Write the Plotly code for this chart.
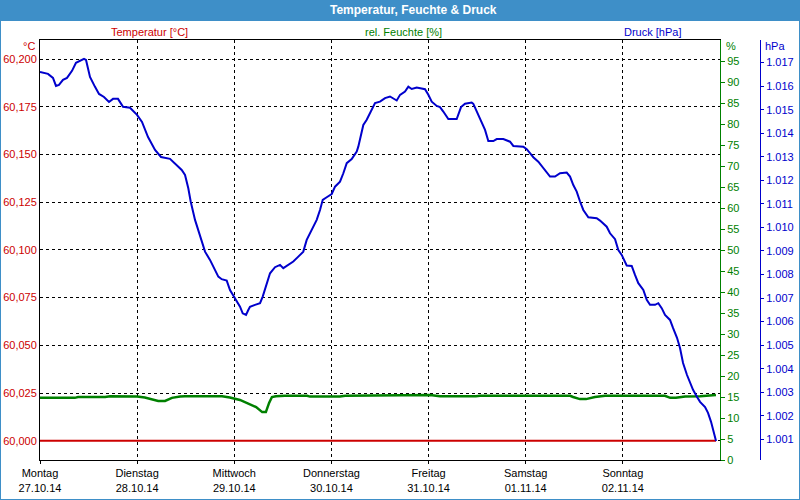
import plotly.graph_objects as go

# ---- data (hours since Mon 27.10.14 00:00) ----
p_hours = [0.0, 1.98, 3.21, 3.95, 4.69, 5.68, 6.67, 7.91, 8.89, 9.88, 10.87, 11.37, 12.35, 13.59, 14.58,
           15.81, 17.05, 18.04, 19.27, 20.51, 22.24, 23.97, 25.20, 26.69, 28.42, 29.90, 32.12, 35.01,
           35.83, 36.64, 37.23, 38.30, 39.53, 40.77, 42.00, 44.05, 44.89, 46.13, 46.94, 48.18, 49.42,
           50.08, 50.90, 51.46, 51.88, 53.12, 54.36, 55.02, 56.01, 56.83, 58.06, 59.30, 60.11, 61.35,
           62.58, 63.82, 65.05, 65.89, 66.71, 67.38, 68.36, 69.18, 69.85, 70.84, 72.07, 72.89, 74.12,
           74.94, 75.78, 77.01, 78.25, 78.64, 79.48, 79.88, 80.72, 81.95, 82.77, 84.00, 85.24, 86.47,
           88.13, 88.95, 90.18, 91.00, 91.84, 93.07, 95.12, 95.94, 96.78, 98.01, 98.83, 99.64, 100.88,
           102.95, 104.02, 105.00, 106.66, 107.06, 107.89, 109.13, 109.95, 110.76, 112.00, 112.84,
           114.47, 116.12, 116.94, 119.41, 120.25, 121.06, 121.88, 123.11, 124.35, 126.01, 127.24,
           128.48, 130.13, 130.95, 131.76, 132.60, 133.42, 134.23, 135.47, 137.54, 138.36, 140.01,
           140.83, 142.07, 142.88, 143.72, 144.95, 146.19, 147.00, 147.82, 149.06, 149.90, 150.71,
           151.94, 152.76, 153.60, 154.42, 155.65, 156.39, 157.38, 158.12, 158.87, 159.85, 160.60,
           161.34, 162.33, 163.07, 164.31, 165.04, 165.79, 166.28, 166.78, 167.02]
pressure = [1016.60, 1016.52, 1016.35, 1016.01, 1016.05, 1016.27, 1016.35, 1016.65, 1016.99, 1017.07,
            1017.16, 1017.11, 1016.39, 1015.97, 1015.67, 1015.54, 1015.33, 1015.46, 1015.46, 1015.12,
            1015.08, 1014.78, 1014.48, 1013.84, 1013.29, 1012.99, 1012.91, 1012.44, 1012.23, 1011.66,
            1011.10, 1010.32, 1009.61, 1008.97, 1008.62, 1007.91, 1007.80, 1007.74, 1007.34, 1006.99,
            1006.63, 1006.35, 1006.28, 1006.49, 1006.63, 1006.71, 1006.78, 1007.06, 1007.63, 1008.05,
            1008.31, 1008.41, 1008.27, 1008.41, 1008.55, 1008.76, 1008.97, 1009.47, 1009.75, 1009.97,
            1010.32, 1010.74, 1011.17, 1011.28, 1011.42, 1011.73, 1011.94, 1012.30, 1012.73, 1012.90,
            1013.22, 1013.43, 1014.00, 1014.35, 1014.57, 1014.99, 1015.28, 1015.34, 1015.49, 1015.56,
            1015.39, 1015.63, 1015.77, 1015.98, 1015.88, 1015.94, 1015.87, 1015.63, 1015.34, 1015.16,
            1015.11, 1014.92, 1014.60, 1014.60, 1015.11, 1015.25, 1015.30, 1015.25, 1014.92, 1014.49,
            1014.14, 1013.67, 1013.67, 1013.75, 1013.75, 1013.64, 1013.46, 1013.43, 1013.32, 1013.15,
            1012.98, 1012.79, 1012.51, 1012.16, 1012.16, 1012.30, 1012.33, 1012.16, 1011.80, 1011.52,
            1011.10, 1010.74, 1010.43, 1010.39, 1010.29, 1010.03, 1009.75, 1009.50, 1009.04, 1008.83,
            1008.38, 1008.36, 1007.98, 1007.63, 1007.34, 1006.92, 1006.71, 1006.71, 1006.78, 1006.57,
            1006.28, 1006.07, 1005.73, 1005.31, 1004.88, 1004.24, 1003.73, 1003.39, 1003.10, 1002.80,
            1002.59, 1002.37, 1002.12, 1001.74, 1001.40, 1001.10, 1000.93]

h_hours = [0.0, 8.6, 9.4, 16.1, 17.3, 22.2, 24.0, 25.9, 27.7, 29.2, 30.9, 32.6, 34.6, 35.8, 45.0, 46.9,
           49.4, 51.9, 53.4, 54.9, 55.8, 56.6, 57.3, 58.3, 60.5, 66.0, 66.7, 74.1, 75.4, 96.4, 98.8,
           107.7, 108.7, 131.0, 131.7, 133.4, 134.9, 137.1, 139.6, 154.4, 155.7, 157.1, 159.4, 163.1,
           167.0]
humidity = [14.8, 14.8, 15.0, 15.0, 15.2, 15.2, 15.1, 14.9, 14.5, 14.05, 14.05, 14.8, 15.1, 15.2, 15.2,
            14.9, 14.3, 13.3, 12.6, 11.4, 11.4, 13.6, 15.0, 15.2, 15.3, 15.3, 15.1, 15.1, 15.3, 15.5,
            15.2, 15.2, 15.3, 15.3, 15.0, 14.5, 14.5, 15.0, 15.3, 15.3, 14.8, 14.8, 15.1, 15.2, 15.5]

t_hours = [0.0, 167.0]
temperature = [60.0, 60.0]

day_ticks = [0, 24, 48, 72, 96, 120, 144]
day_labels = ["Montag<br>27.10.14", "Dienstag<br>28.10.14", "Mittwoch<br>29.10.14",
              "Donnerstag<br>30.10.14", "Freitag<br>31.10.14", "Samstag<br>01.11.14",
              "Sonntag<br>02.11.14"]
temp_ticks = [60.000, 60.025, 60.050, 60.075, 60.100, 60.125, 60.150, 60.175, 60.200]
temp_labels = ["60,000", "60,025", "60,050", "60,075", "60,100", "60,125", "60,150", "60,175", "60,200"]
hum_ticks = list(range(0, 100, 5))
hum_labels = [str(v) for v in hum_ticks]
press_ticks = list(range(1001, 1018))
press_labels = ["1.%03d" % (v - 1000) for v in press_ticks]

RED = "#cc0000"
GREEN = "#008000"
BLUE = "#0000cc"
BAR = "#3e8fc8"
FONT = "Liberation Sans"

fig = go.Figure()
fig.add_trace(go.Scatter(x=t_hours, y=temperature, mode="lines", line=dict(color=RED, width=2),
                         yaxis="y", showlegend=False))
fig.add_trace(go.Scatter(x=h_hours, y=humidity, mode="lines", line=dict(color=GREEN, width=2.5),
                         yaxis="y2", showlegend=False))
fig.add_trace(go.Scatter(x=p_hours, y=pressure, mode="lines", line=dict(color=BLUE, width=2),
                         yaxis="y3", showlegend=False))

W = 720.0
H = 420.0
def px(X):
    return (X - 40) / W
def py(Y):
    return (460 - Y) / H

fig.update_layout(
    width=800, height=500,
    margin=dict(l=40, r=40, t=40, b=40, autoexpand=False),
    paper_bgcolor="white", plot_bgcolor="white",
    font=dict(family=FONT, size=11, color="black"),
    showlegend=False,
    xaxis=dict(domain=[0, 680 / W], range=[0, 168], tickvals=day_ticks, ticktext=day_labels,
               showgrid=True, gridcolor="black", griddash="3px,3px", gridwidth=1,
               showline=True, linecolor="black", linewidth=1, mirror=True, automargin=False,
               ticks="outside", ticklen=3, tickcolor="black", zeroline=False,
               tickfont=dict(color="black", size=11)),
    yaxis=dict(range=[59.9899, 60.2100], tickvals=temp_ticks, ticktext=temp_labels,
               showgrid=True, gridcolor="black", griddash="3px,3px", gridwidth=1,
               showline=True, linecolor="black", linewidth=1, zeroline=False, automargin=False,
               ticks="", tickfont=dict(color=RED, size=11)),
    yaxis2=dict(range=[0, 100], tickvals=hum_ticks, ticktext=hum_labels, overlaying="y",
                side="right", anchor="x", showgrid=False, zeroline=False, automargin=False,
                showline=True, linecolor=GREEN, linewidth=1,
                ticks="outside", ticklen=4, tickcolor=GREEN, tickfont=dict(color=GREEN, size=11)),
    yaxis3=dict(range=[1000.12, 1017.96], tickvals=press_ticks, ticktext=press_labels,
                overlaying="y", side="right", anchor="free", position=1.0, automargin=False,
                showgrid=False, zeroline=False, showline=True, linecolor=BLUE, linewidth=1,
                ticks="outside", ticklen=3, tickcolor=BLUE, tickfont=dict(color=BLUE, size=11)),
)

shapes = [
    dict(type="rect", xref="paper", yref="paper", x0=px(-2), x1=px(802), y0=py(21), y1=py(-2),
         fillcolor=BAR, line=dict(width=0), layer="above"),
    dict(type="rect", xref="paper", yref="paper", x0=px(0), x1=px(800), y0=py(500), y1=py(0),
         fillcolor="rgba(0,0,0,0)", line=dict(color=BAR, width=2), layer="above"),
]
fig.update_layout(shapes=shapes)

ann = [
    dict(text="<b>Temperatur, Feuchte & Druck</b>", x=px(413), y=py(10), font=dict(color="white", size=12),
         xanchor="center", yanchor="middle"),
    dict(text="Temperatur [°C]", x=px(149), y=py(32), font=dict(color=RED), xanchor="center", yanchor="middle"),
    dict(text="rel. Feuchte [%]", x=px(403), y=py(32), font=dict(color=GREEN), xanchor="center", yanchor="middle"),
    dict(text="Druck [hPa]", x=px(652), y=py(32), font=dict(color=BLUE), xanchor="center", yanchor="middle"),
    dict(text="°C", x=px(37), y=py(46), font=dict(color=RED), xanchor="right", yanchor="middle"),
    dict(text="%", x=px(724), y=py(46), font=dict(color=GREEN), xanchor="left", yanchor="middle"),
    dict(text="hPa", x=px(763), y=py(46), font=dict(color=BLUE), xanchor="left", yanchor="middle"),
]
for a in ann:
    a.update(xref="paper", yref="paper", showarrow=False)
    a["font"].setdefault("size", 11)
    a["font"]["family"] = FONT
fig.update_layout(annotations=ann)

fig.write_html("out.html", config={"displayModeBar": False},
               post_script="document.body.style.margin='0';")
